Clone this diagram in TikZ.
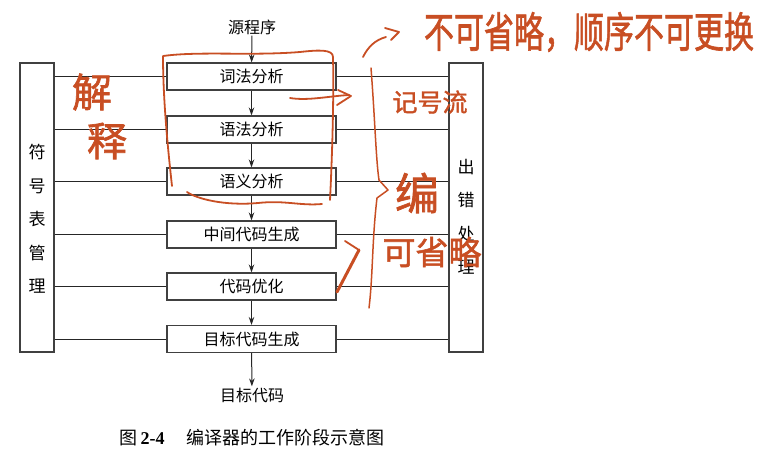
\documentclass[tikz,border=0pt]{standalone}
\usepackage{fontspec}
\usepackage{graphicx}
\setmainfont{Liberation Serif}
\newfontfamily\cjk{Noto Sans CJK SC}
\newfontfamily\handf[FakeBold=1.6]{Noto Sans CJK SC}
\usetikzlibrary{arrows.meta}
\definecolor{hred}{RGB}{200,78,35}
\begin{document}
\begin{tikzpicture}[x=1pt,y=-1pt,
  stage/.style={draw=black!75, line width=1.1pt, minimum width=169pt, minimum height=27pt, inner sep=0pt, font=\cjk\fontsize{16}{16}\selectfont},
  side/.style={draw=black!75, line width=1.1pt, minimum width=34pt, minimum height=289pt, inner sep=0pt},
  sidetxt/.style={font=\cjk\fontsize{17}{33.5}\selectfont, align=center, inner sep=0pt},
  plain/.style={font=\cjk\fontsize{16}{16}\selectfont, inner sep=1pt},
  link/.style={draw=black!85, line width=1pt},
  flow/.style={link, -{Stealth[length=8pt,width=5.5pt]}},
  hand/.style={draw=hred, line width=1.8pt, line cap=round, line join=round},
  handtxt/.style={text=hred, inner sep=0pt}]
\useasboundingbox (0,0) rectangle (761,469);

% side boxes
\node[side] (tab) at (37,207.5) {};
\node[side] (err) at (466,207.5) {};
\node[sidetxt] (tabtxt) at (37,219) {符\\号\\表\\管\\理};
\node[sidetxt] (errtxt) at (466,217) {出\\错\\处\\理};

% stages
\node[stage] (lex) at (251.5,76.5) {词法分析};
\node[stage] (syn) at (251.5,129.5) {语法分析};
\node[stage] (sem) at (251.5,181.5) {语义分析};
\node[stage] (ir)  at (251.5,234.5) {中间代码生成};
\node[stage] (opt) at (251.5,286.5) {代码优化};
\node[stage] (gen) at (251.5,339) {目标代码生成};

\node[plain] (src) at (252,27) {源程序};
\node[plain] (tgt) at (252,395) {目标代码};

% flow arrows
\draw[flow] (src) -- (lex);
\draw[flow] (lex) -- (syn);
\draw[flow] (syn) -- (sem);
\draw[flow] (sem) -- (ir);
\draw[flow] (ir) -- (opt);
\draw[flow] (opt) -- (gen);
\draw[flow] (gen) -- (tgt);

% links to side boxes
\foreach \s in {lex,syn,sem,ir,opt,gen}{
  \draw[link] (tab.east |- \s.west) -- (\s.west);
  \draw[link] (\s.east) -- (err.west |- \s.east);
}

% caption
\node[inner sep=0pt] (cap) at (252,438) {\fontsize{18}{18}\selectfont\cjk 图\,\textrm{\textbf{2-4}}\hspace{1.2em}编译器的工作阶段示意图};

% handwritten annotations
\draw[hand] (172,186) .. controls (168,150) and (163,100) .. (163,56)
  .. controls (200,51) and (250,56) .. (300,52)
  .. controls (318,50) and (333,49) .. (333,57)
  .. controls (334,100) and (332,160) .. (330,200);
\draw[hand] (187,192) .. controls (197,199) and (225,206) .. (258,203)
  .. controls (285,200) and (300,206) .. (322,204);
\draw[hand] (290,98) .. controls (308,101) and (330,96) .. (349,95);
\draw[hand] (338,90) -- (351,96) -- (337,105);
\draw[hand] (363,57) .. controls (368,47) and (375,40) .. (386,37);
\draw[hand] (385,28) -- (399,32) -- (391,40);
\draw[hand, line width=1.5pt] (371,68) .. controls (375,120) and (376,160) .. (379,180)
  -- (388,190) -- (377,198) .. controls (372,240) and (373,275) .. (369,308);
\draw[hand, line width=3pt] (337,292) -- (359,250);
\draw[hand] (345,241) -- (359,250);

\node[handtxt] (t1) at (589,32) {\scalebox{1}[1.4]{\handf\fontsize{30}{30}\selectfont 不可省略，顺序不可更换}};
\node[handtxt] (t2) at (92,92) {\handf\fontsize{40}{40}\selectfont 解};
\node[handtxt] (t3) at (107,141) {\handf\fontsize{40}{40}\selectfont 释};
\node[handtxt] (t4) at (430,102) {\handf\fontsize{25}{25}\selectfont 记号流};
\node[handtxt] (t5) at (417,193) {\handf\fontsize{44}{44}\selectfont 编};
\node[handtxt] (t6) at (432,252) {\handf\fontsize{33}{33}\selectfont 可省略};
\end{tikzpicture}
\end{document}
